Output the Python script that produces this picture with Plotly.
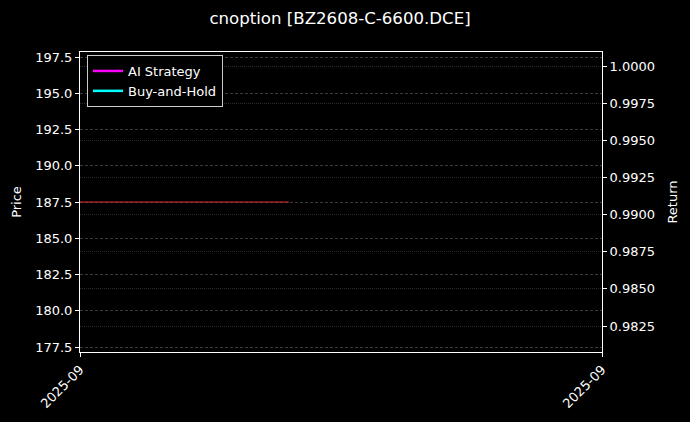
import plotly.graph_objects as go

# Price series (only a flat stretch is present in this window)
dates = ['2025-09-01', '2025-09-03']
price = [187.5, 187.5]

# Return series (no values, they only show in the legend)
ai_dates = [None]
ai_return = [None]
bh_dates = [None]
bh_return = [None]

x_range = ['2025-09-01', '2025-09-06']
x_tick_vals = ['2025-09-01', '2025-09-06']
x_tick_text = ['2025-09', '2025-09']

price_ticks = [177.5, 180.0, 182.5, 185.0, 187.5, 190.0, 192.5, 195.0, 197.5]
return_ticks = [0.9825, 0.9850, 0.9875, 0.9900, 0.9925, 0.9950, 0.9975, 1.0000]

font_family = 'DejaVu Sans'

fig = go.Figure()

fig.add_trace(go.Scatter(
    x=dates, y=price, mode='lines', name='Price',
    line=dict(color='rgb(228,40,50)', width=1.2),
    showlegend=False, yaxis='y'
))
fig.add_trace(go.Scatter(
    x=ai_dates, y=ai_return, mode='lines', name='AI Strategy',
    line=dict(color='#ff00ff', width=2.5), yaxis='y2'
))
fig.add_trace(go.Scatter(
    x=bh_dates, y=bh_return, mode='lines', name='Buy-and-Hold',
    line=dict(color='#00ffff', width=2.5), yaxis='y2'
))

fig.update_layout(
    width=690, height=422,
    paper_bgcolor='black', plot_bgcolor='black',
    font=dict(family=font_family, color='white', size=13),
    margin=dict(l=80, r=88, t=52, b=70),
    title=dict(text='cnoption [BZ2608-C-6600.DCE]', xref='container', x=0.4928,
               xanchor='center', y=0.957, yanchor='middle', font=dict(size=16.6)),
    xaxis=dict(
        type='date', range=x_range, tickvals=x_tick_vals, ticktext=x_tick_text,
        tickangle=-45, showgrid=False, zeroline=False,
        showline=True, linecolor='white', linewidth=1, mirror=True,
        ticks='outside', ticklen=4, tickcolor='white'
    ),
    yaxis=dict(
        range=[177.155, 197.845], tickvals=price_ticks, tickformat='.1f',
        showgrid=True, gridcolor='#3c3c3c', griddash='3px,2px', gridwidth=0.6,
        zeroline=False, showline=True, linecolor='white', linewidth=1,
        ticks='outside', ticklen=4, tickcolor='white',
        title=dict(text='Price', standoff=10, font=dict(size=13))
    ),
    yaxis2=dict(
        overlaying='y', side='right',
        range=[0.98075, 1.000942], tickvals=return_ticks, tickformat='.4f',
        showgrid=True, gridcolor='#2a2a2a', griddash='1px,1px', gridwidth=0.6,
        zeroline=False, showline=True, linecolor='white', linewidth=1,
        ticks='outside', ticklen=4, tickcolor='white',
        title=dict(text='Return', standoff=13, font=dict(size=13))
    ),
    legend=dict(
        x=0.0134, y=0.99, xanchor='left', yanchor='top',
        bgcolor='black', bordercolor='#cccccc', borderwidth=1,
        font=dict(size=13), itemwidth=30
    ),
)

# drop the page margin so the figure sits at the window corner
fig.write_html("out.html", config={'displayModeBar': False},
               post_script="document.body.style.margin='0';")
